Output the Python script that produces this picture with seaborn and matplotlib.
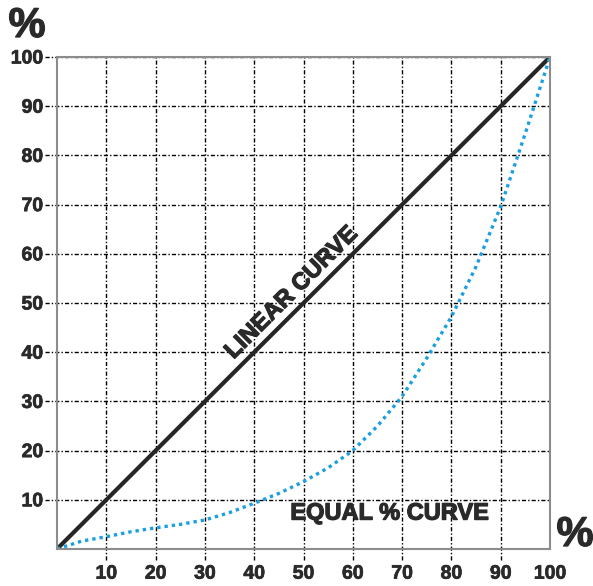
import numpy as np
import pandas as pd
import seaborn as sns
import matplotlib.pyplot as plt
import matplotlib.patheffects as pe

# --- Data ---
travel = [0, 5, 10, 15, 20, 25, 30, 35, 40, 45, 50, 55, 60, 65, 70, 75, 80, 85, 90, 95, 100]
linear_flow = [0, 5, 10, 15, 20, 25, 30, 35, 40, 45, 50, 55, 60, 65, 70, 75, 80, 85, 90, 95, 100]
equal_pct_flow = [0, 1.6, 2.5, 3.5, 4.3, 5.0, 5.9, 7.4, 9.3, 11.3, 13.7, 16.5, 20.0, 25.0, 31.0,
                  38.8, 47.2, 57.4, 69.6, 84.5, 100]
x_ticks = [10, 20, 30, 40, 50, 60, 70, 80, 90, 100]
y_ticks = [10, 20, 30, 40, 50, 60, 70, 80, 90, 100]

df = pd.DataFrame({"travel": travel, "linear": linear_flow, "equal": equal_pct_flow})

# --- Style ---
sns.set_style("white")
plt.rcParams["font.family"] = ["Liberation Sans", "DejaVu Sans"]
plt.rcParams["font.weight"] = "bold"

text_col = "#2a2a2a"
grid_style = (0, (3, 1.5, 1, 1.5))
thick = [pe.withStroke(linewidth=0.9, foreground=text_col)]

fig = plt.figure(figsize=(5.93, 5.86), dpi=100)
ax = fig.add_axes([57 / 593, 1 - 549 / 586, 493 / 593, 492 / 586])

# grid lines, slightly running out of the axes as "ticks"
for v in x_ticks[:-1]:
    ax.axvline(v, ymin=-0.022, ymax=1, color="black", lw=1, ls=grid_style, clip_on=False, zorder=1)
for v in y_ticks:
    ax.axhline(v, xmin=-0.025, xmax=1, color="black", lw=1, ls=grid_style, clip_on=False, zorder=1)

sns.lineplot(data=df, x="travel", y="linear", ax=ax, color="#262626", lw=3, zorder=3)
sns.lineplot(data=df, x="travel", y="equal", ax=ax, color="#1a9fe0", lw=2.4,
             ls=(0, (1, 1.2)), zorder=4)
for l in ax.get_lines()[-2:]:
    l.set_solid_capstyle("butt")
    l.set_dash_capstyle("butt")

ax.set_xlim(0, 100)
ax.set_ylim(0, 100)
ax.set_xticks(x_ticks)
ax.set_yticks(y_ticks)
ax.set_xticklabels([str(v) for v in x_ticks])
ax.set_yticklabels([str(v) for v in y_ticks])
ax.tick_params(axis="x", length=0, pad=12, labelsize=14, colors=text_col)
ax.tick_params(axis="y", length=0, pad=10, labelsize=14, colors=text_col)
for lab in ax.get_xticklabels() + ax.get_yticklabels():
    lab.set_fontweight("bold")
    lab.set_path_effects([pe.withStroke(linewidth=0.5, foreground=text_col)])
ax.set_xlabel("")
ax.set_ylabel("")

for side in ["left", "bottom", "right", "top"]:
    ax.spines[side].set_color("#8c8c8c")
    ax.spines[side].set_linewidth(1.5)
    ax.spines[side].set_zorder(5)

ax.text(48.5, 51.2, "LINEAR CURVE", rotation=45, rotation_mode="anchor",
        ha="center", va="baseline", fontsize=17, fontweight="bold", color=text_col,
        zorder=6, path_effects=thick)
ax.text(67.5, 7.3, "EQUAL % CURVE", ha="center", va="center",
        fontsize=17, fontweight="bold", color=text_col, zorder=6, path_effects=thick)

fig.text(27 / 593, 1 - 26 / 586, "%", ha="center", va="center",
         fontsize=30, fontweight="bold", color=text_col, path_effects=thick)
fig.text(575 / 593, 1 - 535 / 586, "%", ha="center", va="center",
         fontsize=30, fontweight="bold", color=text_col, path_effects=thick)

fig.savefig("out.png", dpi=100)
